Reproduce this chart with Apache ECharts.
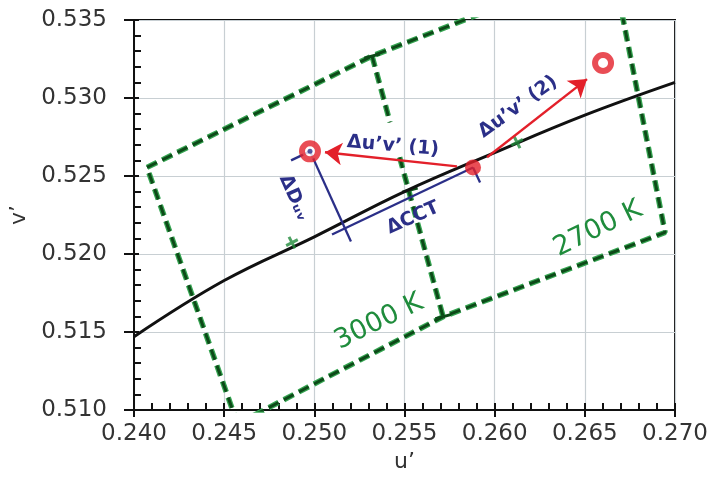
<!DOCTYPE html>
<html><head><meta charset="utf-8">
<script src="https://cdn.jsdelivr.net/npm/echarts/dist/echarts.min.js"></script>
<style>html,body{margin:0;padding:0;background:#fff}#c{width:712px;height:481px}</style>
</head><body><div id="c"></div>
<script>
// ---- axis ticks ----
const xMin = 0.240, xMax = 0.270, xStep = 0.005;
const yMin = 0.510, yMax = 0.535, yStep = 0.005;
const xTickLabels = ['0.240','0.245','0.250','0.255','0.260','0.265','0.270'];
const yTickLabels = ['0.510','0.515','0.520','0.525','0.530','0.535'];

// ---- Planckian locus ----
const locusU = [0.240, 0.245, 0.250, 0.255, 0.260, 0.265, 0.270];
const locusV = [0.5147, 0.5183, 0.5211, 0.5240, 0.5265, 0.5289, 0.5310];

// ---- quadrangle outline (3000 K + 2700 K) ----
const boxU = [0.24574, 0.24072, 0.25320, 0.26650, 0.26945, 0.25714, 0.24574];
const boxV = [0.50911, 0.52555, 0.53269, 0.53870, 0.52138, 0.51598, 0.50911];
// shared isotherm between the two quadrangles (gap under label)
const midU = [0.25320, 0.25420, null, 0.25473, 0.25714];
const midV = [0.53269, 0.52844, null, 0.52620, 0.51598];
// tee marks on the shared isotherm
const teeU = [0.25320, 0.25530, 0.25714];
const teeV = [0.53269, 0.52410, 0.51598];
// nominal CCT marks on the locus
const crossU = [0.24876, 0.26124];
const crossV = [0.52073, 0.52716];

// ---- red points ----
const dotU = [0.25880];
const dotV = [0.52555];
const ringU = [0.24976, 0.26601];
const ringV = [0.52658, 0.53224];
const arrowFromU = [0.25791, 0.25958];
const arrowFromV = [0.52562, 0.52620];
const arrowToU = [0.25059, 0.26512];
const arrowToV = [0.52652, 0.53121];

// ---- blue construction lines (ΔDuv, ΔCCT) ----
const blueFromU = [0.24976, 0.24976, 0.25098, 0.25880];
const blueFromV = [0.52658, 0.52658, 0.52125, 0.52555];
const blueToU   = [0.25203, 0.24871, 0.25880, 0.25919];
const blueToV   = [0.52080, 0.52600, 0.52555, 0.52459];

const F = 'DejaVu Sans';
const RED = '#e3202a', NAVY = '#2b2f88', GDARK = '#0d4a18', GLIGHT = '#36a552', GTEXT = '#1f8c3c';

const chart = echarts.init(document.getElementById('c'), null, {renderer: 'canvas'});

const xLab = v => xTickLabels[Math.round((v - xMin) / xStep)] || '';
const yLab = v => yTickLabels[Math.round((v - yMin) / yStep)] || '';

const pair = (U, V) => U.map((u, i) => u == null ? ['-', '-'] : [u, V[i]]);
const segs = (fu, fv, tu, tv) => fu.map((u, i) => ({coords: [[u, fv[i]], [tu[i], tv[i]]]}));

const tickStyle = {color: '#111', width: 2};
const labStyle = {fontFamily: F, fontSize: 23, color: '#333'};

chart.setOption({
  animation: false,
  grid: {left: 134, right: 37, top: 20, bottom: 71, show: true, borderColor: '#111', borderWidth: 2, backgroundColor: 'transparent'},
  xAxis: [
    {type: 'value', min: xMin, max: xMax, interval: xStep, position: 'bottom',
     axisLine: {show: true, onZero: false, lineStyle: tickStyle},
     axisTick: {show: true, inside: true, length: 7, lineStyle: tickStyle},
     minorTick: {show: true, splitNumber: 5, length: 7, lineStyle: tickStyle},
     axisLabel: Object.assign({formatter: xLab, margin: 13}, labStyle),
     splitLine: {show: true, lineStyle: {color: '#c8cfd3', width: 1.2}},
     name: 'u’', nameLocation: 'middle', nameGap: 40,
     nameTextStyle: {fontFamily: F, fontSize: 22, color: '#333'}},
    {type: 'value', min: xMin, max: xMax, interval: xStep, position: 'bottom', offset: 0,
     axisLine: {show: false, onZero: false},
     axisTick: {show: true, inside: false, length: 7, lineStyle: tickStyle},
     axisLabel: {show: false}, splitLine: {show: false}}
  ],
  yAxis: [
    {type: 'value', min: yMin, max: yMax, interval: yStep, position: 'left',
     axisLine: {show: true, onZero: false, lineStyle: tickStyle},
     axisTick: {show: true, inside: true, length: 5, lineStyle: tickStyle},
     minorTick: {show: true, splitNumber: 5, length: 7, lineStyle: tickStyle},
     axisLabel: Object.assign({formatter: yLab, margin: 27}, labStyle),
     splitLine: {show: true, lineStyle: {color: '#c8cfd3', width: 1.2}},
     name: 'v’', nameLocation: 'middle', nameGap: 100, nameRotate: 90,
     nameTextStyle: {fontFamily: F, fontSize: 22, color: '#333'}},
    {type: 'value', min: yMin, max: yMax, interval: yStep, position: 'left', offset: 0,
     axisLine: {show: false, onZero: false},
     axisTick: {show: true, inside: false, length: 10, lineStyle: tickStyle},
     axisLabel: {show: false}, splitLine: {show: false}}
  ],
  series: [
    // quadrangle: green halo + dark dashes
    {type: 'line', data: pair(boxU, boxV), showSymbol: false, z: 2, silent: true,
     lineStyle: {color: GLIGHT, width: 5.5, type: [11, 6]}},
    {type: 'line', data: pair(boxU, boxV), showSymbol: false, z: 2, silent: true,
     lineStyle: {color: GDARK, width: 3, type: [11, 6]}},
    {type: 'line', data: pair(midU, midV), showSymbol: false, z: 2, silent: true, connectNulls: false,
     lineStyle: {color: GLIGHT, width: 5.5, type: [11, 6]}},
    {type: 'line', data: pair(midU, midV), showSymbol: false, z: 2, silent: true, connectNulls: false,
     lineStyle: {color: GDARK, width: 3, type: [11, 6]}},
    // Planckian locus
    {type: 'line', data: pair(locusU, locusV), showSymbol: false, smooth: 0.4, z: 4, silent: true,
     lineStyle: {color: '#111', width: 3}},
    // CCT marks
    {type: 'scatter', data: pair(crossU, crossV), z: 5, silent: true,
     symbol: 'path://M4,0h2.4v10.4h-2.4zM0,4h10.4v2.4h-10.4z', symbolSize: 13, symbolRotate: 27,
     itemStyle: {color: '#1f8a3a'}},
    // blue construction lines
    {type: 'lines', coordinateSystem: 'cartesian2d', z: 5, silent: true,
     data: segs(blueFromU, blueFromV, blueToU, blueToV),
     lineStyle: {color: NAVY, width: 2.3, opacity: 1}},
    // red arrows
    {type: 'lines', coordinateSystem: 'cartesian2d', z: 6, silent: true,
     symbol: ['none', 'arrow'], symbolSize: [13, 17],
     data: segs(arrowFromU, arrowFromV, arrowToU, arrowToV),
     lineStyle: {color: RED, width: 2.4, opacity: 1}},
    // red filled point
    {type: 'scatter', data: pair(dotU, dotV), z: 7, silent: true, symbolSize: 16,
     itemStyle: {color: RED}},
    // red rings
    {type: 'scatter', data: pair(ringU, ringV), z: 7, silent: true, symbolSize: 16,
     itemStyle: {color: '#fff', borderColor: RED, borderWidth: 6}},
    // navy centre of first ring
    {type: 'scatter', data: pair(ringU.slice(0, 1), ringV.slice(0, 1)), z: 8, silent: true, symbolSize: 5,
     itemStyle: {color: NAVY}}
  ]
});

// ---- annotations ----
function px(u, v) { return chart.convertToPixel({gridIndex: 0}, [u, v]); }
const g = [];
const pa = px(midU[0], midV[0]), pb = px(midU[midU.length - 1], midV[midV.length - 1]);
const dx = pb[0] - pa[0], dy = pb[1] - pa[1], L = Math.hypot(dx, dy);
const nx = -dy / L, ny = dx / L;
teeU.forEach((u, i) => {
  const p = px(u, teeV[i]);
  g.push({type: 'line', z: 3, silent: true,
    shape: {x1: p[0] - nx * 8, y1: p[1] - ny * 8, x2: p[0] + nx * 8, y2: p[1] + ny * 8},
    style: {stroke: GDARK, lineWidth: 3}});
});
const deg = d => d * Math.PI / 180;
function txt(s, x, y, rot, color, size, weight) {
  g.push({type: 'text', x: x, y: y, rotation: deg(rot), z: 20, silent: true,
    style: {text: s, fill: color, font: (weight || 'normal') + ' ' + size + 'px "' + F + '"', align: 'center', verticalAlign: 'middle'}});
}
txt('Δu’v’ (1)', 393, 146, -5, NAVY, 19, 'bold');
txt('Δu’v’ (2)', 518, 107, 36, NAVY, 19, 'bold');
txt('ΔCCT', 413, 218, 24, NAVY, 19, 'bold');
txt('ΔDᵤᵥ', 294, 198, -66, NAVY, 19, 'bold');
txt('3000 K', 379, 322, 26, GTEXT, 27);
txt('2700 K', 598, 229, 26, GTEXT, 27);
chart.setOption({graphic: g});
</script>
</body></html>
